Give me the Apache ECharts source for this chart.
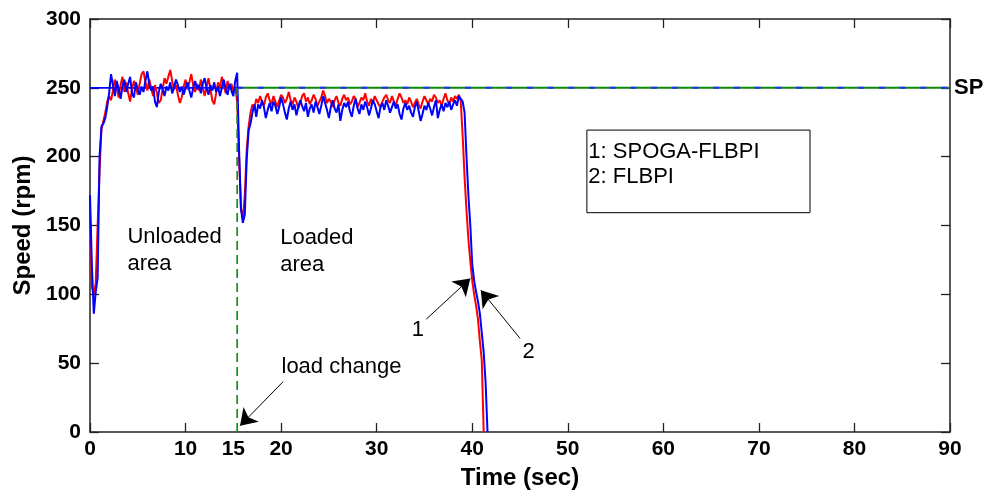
<!DOCTYPE html>
<html><head><meta charset="utf-8">
<script src="https://cdn.jsdelivr.net/npm/echarts@6/dist/echarts.min.js"></script>
<style>html,body{margin:0;padding:0;background:#fff}#c{width:988px;height:499px}</style>
</head><body><div id="c"></div>
<script>
// ---- data ----
const sampleStep = 0.2; // seconds between samples
const xTickValues = [0, 10, 20, 30, 40, 50, 60, 70, 80, 90];
const xLabelValues = [0, 10, 15, 20, 30, 40, 50, 60, 70, 80, 90];
const setpointRpm = 250;
const loadChangeTime = 15.4;

// SPOGA-FLBPI (red)
const spogaStart = [160, 105, 100, 108, 150, 190, 220, 226, 232, 240, 244, 241];
const spogaUnloaded = [248, 256, 250, 243, 252, 258, 247, 254, 246, 240,
  249, 255, 251, 245, 253, 260, 262, 254, 248, 256,
  250, 244, 252, 246, 239, 241, 249, 257, 253, 258,
  263, 255, 249, 252, 245, 239, 243, 251, 256, 249,
  254, 260, 252, 247, 253, 248, 256, 250, 244, 251,
  257, 249, 241, 238, 246, 254, 250, 258, 252, 246,
  255, 249, 253, 247, 251];
const spogaLoadStep = [240, 200, 162, 156, 172, 205, 222, 232, 238, 235];
const spogaLoaded = [242, 239, 244, 240, 237, 243, 246, 241, 238, 244,
  240, 236, 241, 245, 243, 239, 242, 247, 241, 238,
  243, 240, 235, 239, 244, 246, 240, 243, 238, 241,
  245, 242, 237, 240, 243, 248, 244, 239, 242, 240,
  236, 241, 244, 239, 237, 242, 245, 241, 243, 238,
  240, 244, 242, 236, 239, 243, 241, 246, 240, 237,
  242, 239, 244, 241, 238, 236, 240, 243, 245, 241,
  239, 244, 240, 237, 242, 246, 243, 239, 241, 238,
  243, 240, 236, 239, 242, 238, 235, 240, 244, 241,
  238, 242, 240, 245, 243, 239, 241, 237, 242, 246,
  241, 238, 243, 240, 244, 242, 245];
const spogaStop = [240, 215, 185, 161, 140, 124, 110, 100, 92, 82, 66, 52, 0];

// FLBPI (blue)
const flbpiStart = [172, 120, 86, 102, 112, 200, 222, 224, 228, 236, 246, 260];
const flbpiUnloaded = [252, 244, 255, 249, 242, 251, 256, 247, 253, 258,
  246, 243, 254, 249, 245, 251, 247, 255, 262, 253,
  248, 251, 240, 236, 247, 253, 249, 244, 251, 248,
  254, 246, 250, 256, 252, 247, 251, 245, 250, 254,
  248, 243, 250, 255, 249, 252, 246, 253, 257, 250,
  245, 252, 248, 254, 247, 251, 244, 250, 256, 249,
  245, 253, 248, 244, 255];
const flbpiLoadStep = [261, 205, 162, 152, 158, 198, 219, 224, 232, 238];
const flbpiLoaded = [229, 238, 235, 241, 236, 228, 234, 239, 233, 240,
  237, 231, 236, 243, 238, 232, 227, 235, 240, 234,
  238, 230, 236, 241, 237, 233, 239, 229, 235, 238,
  232, 240, 236, 231, 237, 244, 239, 234, 228, 236,
  241, 235, 232, 238, 226, 234, 239, 236, 240, 233,
  229, 237, 242, 235, 231, 238, 234, 240, 236, 230,
  235, 241, 238, 233, 228, 236, 239, 234, 241, 237,
  232, 236, 240, 235, 238, 231, 227, 235, 239, 234,
  237, 232, 229, 236, 240, 233, 226, 231, 237, 234,
  239, 235, 230, 236, 241, 228, 234, 238, 233, 239,
  236, 240, 234, 238, 241, 237, 244];
const flbpiStop = [243, 240, 232, 200, 172, 150, 122, 110, 102, 95, 86, 72, 58, 36, 0];

const spogaRpm = [].concat(spogaStart, spogaUnloaded, spogaLoadStep, spogaLoaded, spogaStop);
const flbpiRpm = [].concat(flbpiStart, flbpiUnloaded, flbpiLoadStep, flbpiLoaded, flbpiStop);
const toPairs = arr => arr.map((v, i) => [Math.round(i * sampleStep * 10) / 10, v]);

// ---- styling ----
const FONT = '"Liberation Sans", Arial, sans-serif';
const AX = '#222';
const GREEN = '#0a8a0a';
const axisLine = { show: true, onZero: false, lineStyle: { color: AX, width: 1.5 } };
const tickStyle = { color: AX, width: 1.3 };

const chart = echarts.init(document.getElementById('c'), null, { renderer: 'canvas' });
chart.setOption({
  animation: false,
  backgroundColor: '#fff',
  grid: { left: 90, right: 38, top: 19, bottom: 67 },
  xAxis: [{
    type: 'value', min: 0, max: 90, interval: 10, position: 'bottom',
    axisLine: axisLine,
    axisTick: { show: true, inside: true, length: 9, customValues: xTickValues, lineStyle: tickStyle },
    axisLabel: { customValues: xLabelValues, margin: 7, fontSize: 21, fontWeight: 'bold', color: '#000', fontFamily: FONT },
    splitLine: { show: false },
    name: 'Time (sec)', nameLocation: 'middle', nameGap: 34,
    nameTextStyle: { fontSize: 24, fontWeight: 'bold', color: '#000', fontFamily: FONT }
  }, {
    type: 'value', min: 0, max: 90, interval: 10, position: 'top',
    axisLine: axisLine,
    axisTick: { show: true, inside: true, length: 9, lineStyle: tickStyle },
    axisLabel: { show: false }, splitLine: { show: false }
  }],
  yAxis: [{
    type: 'value', min: 0, max: 300, interval: 50, position: 'left',
    axisLine: axisLine,
    axisTick: { show: true, inside: true, length: 9, lineStyle: tickStyle },
    axisLabel: { margin: 9, fontSize: 21, fontWeight: 'bold', color: '#000', fontFamily: FONT },
    splitLine: { show: false },
    name: 'Speed (rpm)', nameLocation: 'middle', nameGap: 50, nameRotate: 90,
    nameTextStyle: { fontSize: 24, fontWeight: 'bold', color: '#000', fontFamily: FONT }
  }, {
    type: 'value', min: 0, max: 300, interval: 50, position: 'right',
    axisLine: axisLine,
    axisTick: { show: true, inside: true, length: 9, lineStyle: tickStyle },
    axisLabel: { show: false }, splitLine: { show: false }
  }],
  series: [
    { type: 'line', name: 'SP0', symbol: 'none', silent: true,
      data: [[0, setpointRpm], [loadChangeTime, setpointRpm]],
      lineStyle: { color: '#0000ff', width: 1.6 } },
    { type: 'line', name: 'SP', symbol: 'none', silent: true,
      data: [[loadChangeTime, setpointRpm], [90, setpointRpm]],
      lineStyle: { color: GREEN, width: 2 },
      endLabel: { show: true, formatter: 'SP', distance: 4, fontSize: 22, fontWeight: 'bold', color: '#000', fontFamily: FONT } },
    { type: 'line', name: 'SPdash', symbol: 'none', silent: true,
      data: [[loadChangeTime, setpointRpm], [90, setpointRpm]],
      lineStyle: { color: '#2a2aff', width: 2, type: [6, 14.7] } },
    { type: 'line', name: 'SPOGA-FLBPI', symbol: 'none', silent: true,
      data: toPairs(spogaRpm), lineStyle: { color: '#ff0000', width: 2 } },
    { type: 'line', name: 'FLBPI', symbol: 'none', silent: true,
      data: toPairs(flbpiRpm), lineStyle: { color: '#0000ff', width: 2 } },
    { type: 'line', name: 'load change', symbol: 'none', silent: true,
      data: [[loadChangeTime, 0], [loadChangeTime, setpointRpm]],
      lineStyle: { color: GREEN, width: 1.6, type: [9, 5] },
      markLine: {
        silent: true, animation: false,
        symbol: ['none', 'arrow'], symbolSize: 16,
        label: { show: false },
        lineStyle: { color: '#000', width: 1, type: 'solid' },
        data: [
          [{ coord: [20.2, 36.5] }, { coord: [15.7, 4.5] }],
          [{ coord: [35.2, 82] }, { coord: [39.8, 111.5] }],
          [{ coord: [45.0, 68] }, { coord: [40.9, 103] }]
        ]
      },
      markArea: {
        silent: true,
        itemStyle: { color: 'rgba(0,0,0,0)', borderColor: '#000', borderWidth: 1 },
        data: [[{ coord: [52.0, 219.3] }, { coord: [75.35, 159.3] }]]
      },
      markPoint: {
        silent: true, symbol: 'circle', symbolSize: 0,
        itemStyle: { color: 'rgba(0,0,0,0)' },
        label: { show: true, formatter: '{b}', position: [0, 0], align: 'left', verticalAlign: 'top',
          fontSize: 22, lineHeight: 27, color: '#000', fontFamily: FONT },
        data: [
          { name: 'Unloaded\narea', coord: [3.92, 151.8] },
          { name: 'Loaded\narea', coord: [19.9, 150.6] },
          { name: 'load change', coord: [20.04, 57.4] },
          { name: '1: SPOGA-FLBPI\n2: FLBPI', coord: [52.15, 212.4], label: { lineHeight: 25 } },
          { name: '1', coord: [34.3, 74.1], label: { align: 'center', verticalAlign: 'middle' } },
          { name: '2', coord: [45.9, 58.1], label: { align: 'center', verticalAlign: 'middle' } }
        ]
      }
    }
  ]
});
</script></body></html>
